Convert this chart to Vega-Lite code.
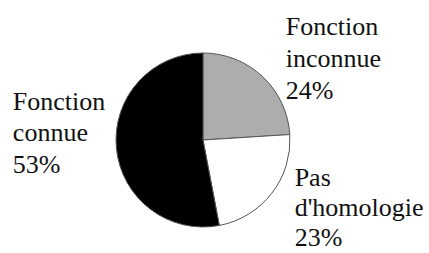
{
  "$schema": "https://vega.github.io/schema/vega-lite/v6.json",
  "width": 406,
  "height": 226,
  "autosize": {"type": "none"},
  "padding": {"left": 0, "right": 23, "top": 27, "bottom": 0},
  "background": "white",
  "config": {"view": {"stroke": null}},
  "data": {
    "values": [
      {"categorie": "Fonction inconnue", "libelle": "Fonction\ninconnue\n24%", "part": 24, "rang": 1},
      {"categorie": "Pas d'homologie", "libelle": "Pas\nd'homologie\n23%", "part": 23, "rang": 2},
      {"categorie": "Fonction connue", "libelle": "Fonction\nconnue\n53%", "part": 53, "rang": 3}
    ]
  },
  "encoding": {
    "theta": {"field": "part", "type": "quantitative", "stack": true},
    "order": {"field": "rang", "type": "quantitative"}
  },
  "layer": [
    {
      "mark": {"type": "arc", "outerRadius": 87, "stroke": "#555", "strokeWidth": 1},
      "encoding": {
        "color": {
          "field": "categorie",
          "type": "nominal",
          "scale": {"domain": ["Fonction inconnue", "Pas d'homologie", "Fonction connue"], "range": ["#adadad", "#ffffff", "#000000"]},
          "legend": null
        }
      }
    },
    {
      "mark": {"type": "text", "radius": 121, "align": "left", "baseline": "alphabetic", "dy": -17, "font": "Liberation Serif", "fontSize": 26, "lineHeight": 32, "lineBreak": "\n", "color": "#111"},
      "encoding": {"text": {"condition": {"test": "datum.rang == 1", "field": "libelle"}, "value": ""}}
    },
    {
      "mark": {"type": "text", "radius": 116, "align": "left", "baseline": "alphabetic", "dy": -25, "font": "Liberation Serif", "fontSize": 26, "lineHeight": 30, "lineBreak": "\n", "color": "#111"},
      "encoding": {"text": {"condition": {"test": "datum.rang == 2", "field": "libelle"}, "value": ""}}
    },
    {
      "mark": {"type": "text", "radius": 191, "align": "left", "baseline": "alphabetic", "dy": -48, "font": "Liberation Serif", "fontSize": 26, "lineHeight": 31.5, "lineBreak": "\n", "color": "#111"},
      "encoding": {"text": {"condition": {"test": "datum.rang == 3", "field": "libelle"}, "value": ""}}
    }
  ]
}
